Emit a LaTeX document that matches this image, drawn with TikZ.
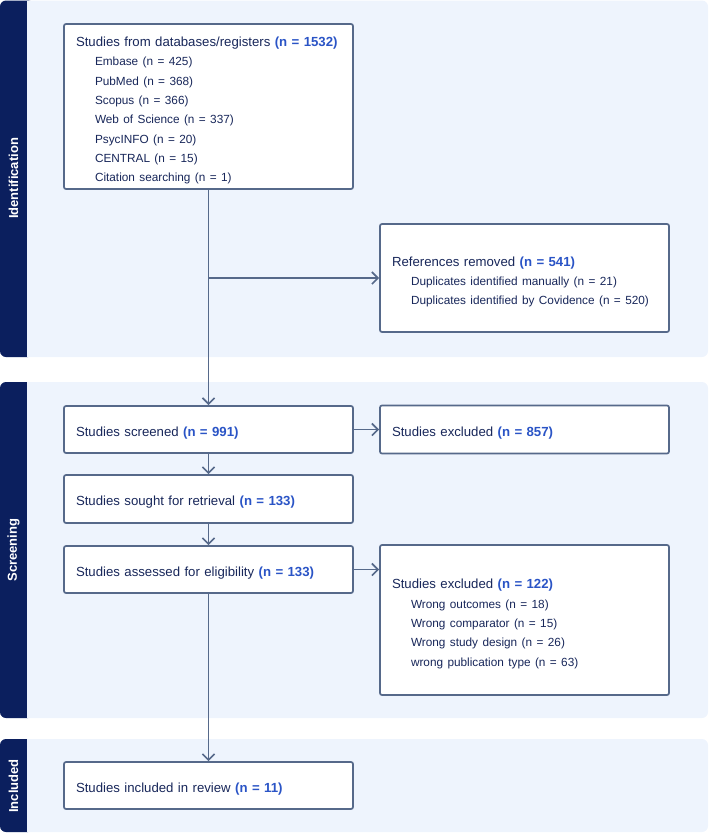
\documentclass[tikz,border=0pt]{standalone}
\usepackage{fontspec}
\setmainfont{Liberation Sans}
\usepackage{xcolor}
\usetikzlibrary{arrows.meta, positioning}

\definecolor{barnavy}{HTML}{0B1F5E}
\definecolor{panelbg}{HTML}{EEF4FD}
\definecolor{boxline}{HTML}{56698A}
\definecolor{textnavy}{HTML}{18275A}
\definecolor{countblue}{HTML}{2A54C6}

\newcommand{\cnt}[1]{\textcolor{countblue}{\textbf{#1}}}
\newcommand{\subline}[1]{\hspace*{19pt}{\fontsize{11.8}{19.3}\selectfont #1}}

\tikzset{
	stagebox/.style={shape=rectangle, draw=boxline, fill=white, line width=1.7pt, rounded corners=2pt, minimum width=289pt, inner sep=0pt},
	stagetext/.style={anchor=center, align=left, text width=265pt, inner sep=0pt, text=textnavy, font=\fontsize{13.2}{19.3}\selectfont},
	flow/.style={draw=boxline, line width=1.7pt, -{Straight Barb[length=6pt, width=12pt, line width=1.7pt]}},
	phasetext/.style={rotate=90, text=white, inner sep=0pt, font=\fontsize{13}{15}\selectfont\bfseries}
}

\begin{document}
\begin{tikzpicture}[x=1pt, y=-1pt]
	\useasboundingbox (0,0) rectangle (709,833);
	% Phase panels:
	\fill[panelbg, rounded corners=6pt] (0,0.5) rectangle (708,357);
	\fill[barnavy, rounded corners=6pt] (0,0.5) rectangle (34,357);
	\fill[panelbg] (27,0.5) rectangle (36,357);
	\fill[panelbg, rounded corners=6pt] (0,382) rectangle (708,718);
	\fill[barnavy, rounded corners=6pt] (0,382) rectangle (34,718);
	\fill[panelbg] (27,382) rectangle (36,718);
	\fill[panelbg, rounded corners=6pt] (0,739) rectangle (708,832);
	\fill[barnavy, rounded corners=6pt] (0,739) rectangle (34,832);
	\fill[panelbg] (27,739) rectangle (36,832);
	\node[phasetext] (identlabel) at (13.5,178.5){Identification};
	\node[phasetext] (screenlabel) at (13.5,550){Screening};
	\node[phasetext] (inclabel) at (13.5,786){Included};

	% Boxes:
	\node[stagebox, minimum height=165pt] (db) at (208.5,106.5){} node[stagetext] (dbtext) at (208.5,110.5){Studies from databases/registers \cnt{(n = 1532)}\\
		\subline{Embase (n = 425)}\\
		\subline{PubMed (n = 368)}\\
		\subline{Scopus (n = 366)}\\
		\subline{Web of Science (n = 337)}\\
		\subline{PsycINFO (n = 20)}\\
		\subline{CENTRAL (n = 15)}\\
		\subline{Citation searching (n = 1)}};
	\node[stagebox, minimum height=108pt] (removed) at (524.5,278){} node[stagetext] (removedtext) at (524.5,282){References removed \cnt{(n = 541)}\\
		\subline{Duplicates identified manually (n = 21)}\\
		\subline{Duplicates identified by Covidence (n = 520)}};
	\node[stagebox, minimum height=47pt] (screened) at (208.5,429.5){} node[stagetext] (screenedtext) at (208.5,433){Studies screened \cnt{(n = 991)}};
	\node[stagebox, minimum height=48pt] (excla) at (524.5,429.5){} node[stagetext] (exclatext) at (524.5,433){Studies excluded \cnt{(n = 857)}};
	\node[stagebox, minimum height=48pt] (sought) at (208.5,499){} node[stagetext] (soughttext) at (208.5,502.5){Studies sought for retrieval \cnt{(n = 133)}};
	\node[stagebox, minimum height=47pt] (assessed) at (208.5,569.5){} node[stagetext] (assessedtext) at (208.5,573){Studies assessed for eligibility \cnt{(n = 133)}};
	\node[stagebox, minimum height=150pt] (exclb) at (524.5,620){} node[stagetext] (exclbtext) at (524.5,624){Studies excluded \cnt{(n = 122)}\\
		\subline{Wrong outcomes (n = 18)}\\
		\subline{Wrong comparator (n = 15)}\\
		\subline{Wrong study design (n = 26)}\\
		\subline{wrong publication type (n = 63)}};
	\node[stagebox, minimum height=47pt] (included) at (208.5,785.5){} node[stagetext] (includedtext) at (208.5,789){Studies included in review \cnt{(n = 11)}};

	% Connectors:
	\draw[flow] (db.south) -- (screened.north);
	\draw[flow] (db.south |- removed.west) -- (removed.west);
	\draw[flow] (screened.east) -- (screened.east -| excla.west);
	\draw[flow] (screened.south) -- (sought.north);
	\draw[flow] (sought.south) -- (assessed.north);
	\draw[flow] (assessed.east) -- (assessed.east -| exclb.west);
	\draw[flow] (assessed.south) -- (included.north);
\end{tikzpicture}
\end{document}
